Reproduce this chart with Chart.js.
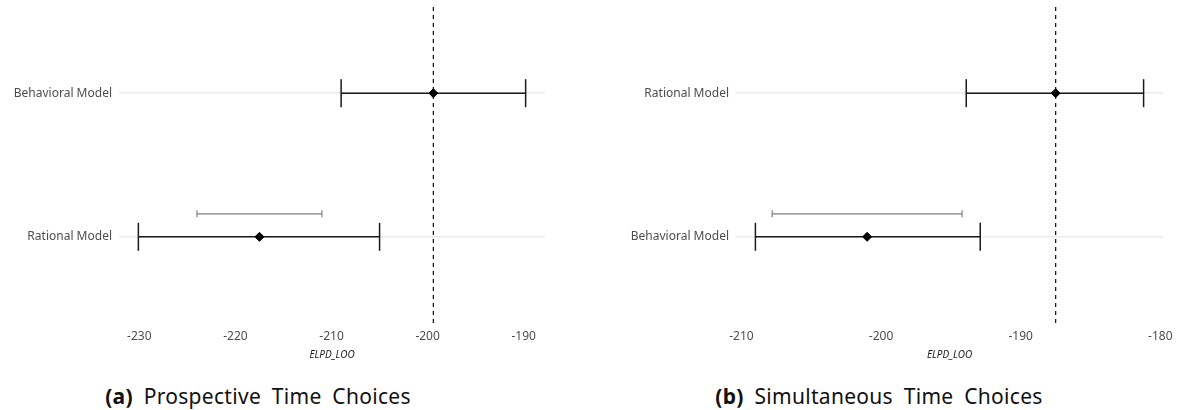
<!DOCTYPE html>
<html>
<head>
<meta charset="utf-8">
<script src="https://cdn.jsdelivr.net/npm/chart.js@4"></script>
<style>
  body { margin: 0; background: #fff; width: 1178px; height: 410px; position: relative; overflow: hidden; }
  canvas { position: absolute; top: 0; }
  .cap { position: absolute; top: 382px; font-family: "Noto Sans", sans-serif; font-size: 21px; line-height: 29px;
         color: #111; text-align: center; word-spacing: 5px; letter-spacing: 0.3px; white-space: nowrap; }
  .cap b { font-weight: 700; }
</style>
</head>
<body>
<canvas id="left" width="590" height="370" style="left:0"></canvas>
<canvas id="right" width="588" height="370" style="left:590px"></canvas>
<div class="cap" style="left:0;width:516px"><b>(a)</b> Prospective Time Choices</div>
<div class="cap" style="left:589px;width:580px"><b>(b)</b> Simultaneous Time Choices</div>
<script>
// panel (a): y = 1 is the bottom row, y = 2 the top row
const leftModels = ['Rational Model', 'Behavioral Model'];
const leftElpd = [-217.5, -199.4];
const leftLower = [-230.1, -209.0];
const leftUpper = [-205.0, -189.8];
const leftDiffLower = -224.0;   // elpd difference +/- se, drawn for the worse model
const leftDiffUpper = -211.0;
const leftTicks = [-230, -220, -210, -200, -190];

// panel (b)
const rightModels = ['Behavioral Model', 'Rational Model'];
const rightElpd = [-201.0, -187.5];
const rightLower = [-209.0, -193.9];
const rightUpper = [-192.9, -181.2];
const rightDiffLower = -207.8;
const rightDiffUpper = -194.2;
const rightTicks = [-210, -200, -190, -180];

const dark = '#1a1a1a';
const tickGrey = '#4d4d4d';
const fontFam = '"Noto Sans", sans-serif';

function makePanel(id, models, elpd, lower, upper, diffLo, diffHi, ticks, axisWidth, padRight) {
    const lo = Math.min(...lower), hi = Math.max(...upper);
    const expand = (hi - lo) * 0.05;
    const best = Math.max(...elpd);
    const worst = elpd.indexOf(Math.min(...elpd));

    let datasets = [];
    // vertical dashed reference line at the best model
    datasets.push({
        data: [{x: best, y: 0.4}, {x: best, y: 2.6}],
        showLine: true, borderColor: dark, borderWidth: 1.3, borderDash: [4, 4],
        pointRadius: 0, order: 2
    });
    // error bars with caps
    models.forEach((m, i) => {
        datasets.push({
            data: [{x: lower[i], y: i + 1}, {x: upper[i], y: i + 1}],
            showLine: true, borderColor: dark, borderWidth: 1.5,
            pointStyle: 'line', rotation: 90, pointRadius: 14,
            pointBorderColor: dark, pointBorderWidth: 1.5, order: 3
        });
    });
    // grey difference bar
    datasets.push({
        data: [{x: diffLo, y: worst + 1.16}, {x: diffHi, y: worst + 1.16}],
        showLine: true, borderColor: '#808080', borderWidth: 1.2,
        pointStyle: 'line', rotation: 90, pointRadius: 3.5,
        pointBorderColor: '#808080', pointBorderWidth: 1.2, order: 3
    });
    // point estimates
    datasets.push({
        data: elpd.map((v, i) => ({x: v, y: i + 1})),
        pointStyle: 'rectRot', pointRadius: 4.5,
        backgroundColor: '#000', pointBorderColor: '#000', pointBorderWidth: 1, order: 1
    });

    return new Chart(document.getElementById(id), {
        type: 'scatter',
        data: {datasets: datasets},
        options: {
            responsive: false,
            animation: false,
            events: [],
            layout: {autoPadding: false, padding: {top: 7, right: padRight, left: 0, bottom: 0}},
            plugins: {legend: {display: false}, tooltip: {enabled: false}},
            scales: {
                x: {
                    type: 'linear',
                    min: lo - expand,
                    max: hi + expand,
                    afterBuildTicks: s => { s.ticks = ticks.map(v => ({value: v})); },
                    afterFit: s => { s.height = 47; s.paddingLeft = 0; s.paddingRight = 0; },
                    grid: {display: false, drawTicks: false},
                    border: {display: false},
                    ticks: {color: tickGrey, font: {family: fontFam, size: 12}, padding: 6},
                    title: {display: true, text: 'ELPD_LOO', color: dark,
                            font: {family: fontFam, size: 10, style: 'italic'}, padding: {top: 2, bottom: 9}}
                },
                y: {
                    type: 'linear',
                    min: 0.4,
                    max: 2.6,
                    afterBuildTicks: s => { s.ticks = [{value: 1}, {value: 2}]; },
                    afterFit: s => { s.width = axisWidth; s.paddingTop = 0; s.paddingBottom = 0; },
                    grid: {color: '#ebebeb', lineWidth: 1.5, drawTicks: false},
                    border: {display: false},
                    ticks: {color: tickGrey, font: {family: fontFam, size: 12}, padding: 7,
                            callback: v => models[v - 1]}
                }
            }
        }
    });
}

makePanel('left', leftModels, leftElpd, leftLower, leftUpper, leftDiffLower, leftDiffUpper, leftTicks, 119, 45);
makePanel('right', rightModels, rightElpd, rightLower, rightUpper, rightDiffLower, rightDiffUpper, rightTicks, 146, 15);
</script>
</body>
</html>
